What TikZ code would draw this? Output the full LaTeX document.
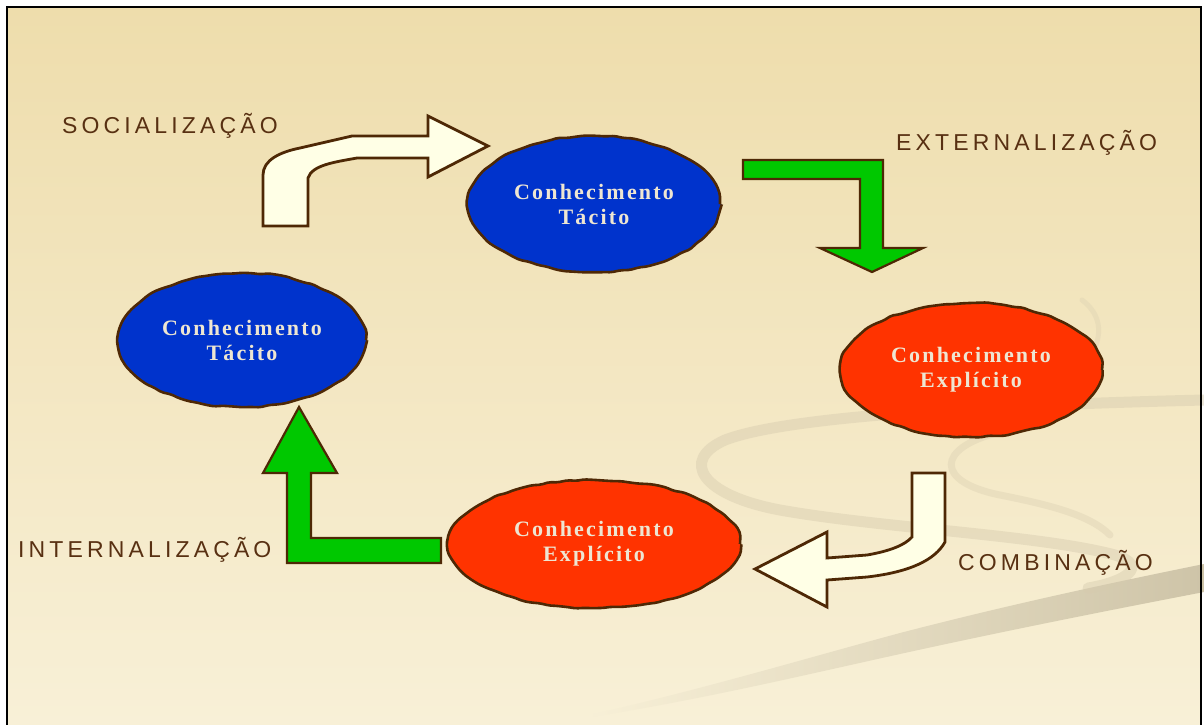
\documentclass[tikz,border=0pt]{standalone}
\usepackage{fontspec}
\setmainfont{Liberation Serif}
\newfontfamily\stagefont[LetterSpace=18]{Liberation Sans}
\newfontfamily\bubblefont[LetterSpace=10]{Liberation Serif}
\usetikzlibrary{shapes.geometric,decorations.pathmorphing}

\definecolor{outline}{RGB}{78,40,5}
\definecolor{labelbrown}{RGB}{88,48,18}
\definecolor{tacitblue}{RGB}{0,51,204}
\definecolor{explicitred}{RGB}{255,51,0}
\definecolor{shiftgreen}{RGB}{0,200,0}
\definecolor{creamfill}{RGB}{255,255,230}
\definecolor{bubbletext}{RGB}{238,230,210}
\definecolor{bgtop}{RGB}{238,221,172}
\definecolor{bgmid}{RGB}{246,235,205}
\definecolor{bgbot}{RGB}{248,240,215}
\definecolor{swoosh}{RGB}{214,203,174}
\definecolor{swooshdark}{RGB}{206,196,168}

\tikzset{
  bubble/.style={ellipse, draw=outline, line width=2.6pt, inner sep=0pt,
    text=bubbletext, align=center,
    font={\bubblefont\bfseries\fontsize{22}{25}\selectfont},
    decorate, decoration={random steps, segment length=9pt, amplitude=0.9pt},
    rounded corners=2pt},
  tacit/.style={bubble, fill=tacitblue},
  explicit/.style={bubble, fill=explicitred},
  stage/.style={anchor=base west, inner sep=0pt, text=labelbrown,
    font={\stagefont\fontsize{23}{26}\selectfont}},
  creamarrow/.style={draw=outline, fill=creamfill, line width=2.8pt, line join=miter},
  greenarrow/.style={draw=outline, fill=shiftgreen, line width=2.2pt, line join=miter},
  swooshline/.style={draw=swoosh, line cap=round}
}

\begin{document}
\begin{tikzpicture}[x=1pt,y=-1pt]
\pgfmathsetseed{11}
\useasboundingbox (0,0) rectangle (1204,724);

% page and slide background
\fill[white] (0,0) rectangle (1204,724);
\shade[top color=bgtop, middle color=bgmid, bottom color=bgbot] (7,7) rectangle (1201,724);

% decorative swooshes in the lower right
\shade[left color=bgbot, right color=swooshdark] (585,716) .. controls (700,690) and (800,660) .. (900,633)
  .. controls (1000,607) and (1100,585) .. (1204,564) -- (1204,592)
  .. controls (1100,612) and (1000,632) .. (900,654)
  .. controls (800,676) and (700,700) .. (585,718) -- cycle;
\draw[swooshline, line width=11pt, opacity=0.45] (1204,400) .. controls (1000,405) and (790,415) .. (725,440)
  .. controls (680,460) and (700,495) .. (780,510)
  .. controls (880,528) and (1040,535) .. (1115,555)
  .. controls (1150,566) and (1125,582) .. (1088,588);
\draw[swooshline, line width=7pt, opacity=0.35] (1000,432) .. controls (935,448) and (935,482) .. (1000,495)
  .. controls (1050,505) and (1090,515) .. (1110,535);
\draw[swooshline, line width=5pt, opacity=0.3] (1082,300) .. controls (1098,312) and (1102,328) .. (1096,345);

% slide frame
\draw[black, line width=2.5pt] (7,740) -- (7,7) -- (1201,7) -- (1201,740);

% the four knowledge states
\node[tacit, minimum width=252pt, minimum height=136pt] (tacitTop) at (594,204)
  {Conhecimento\\Tácito};
\node[explicit, minimum width=262pt, minimum height=134pt] (explicitRight) at (971,370)
  {Conhecimento\\Explícito};
\node[explicit, minimum width=292pt, minimum height=128pt] (explicitBottom) at (594,544)
  {Conhecimento\\Explícito};
\node[tacit, minimum width=248pt, minimum height=134pt] (tacitLeft) at (242,340)
  {Conhecimento\\Tácito};

% conversion arrows
\draw[creamarrow] (263,226) -- (263,175) .. controls (263,160) and (280,152) .. (300,148)
  -- (352,136) -- (428,136) -- (428,116) -- (488,146) -- (428,177) -- (428,158)
  -- (357,158) .. controls (335,162) and (312,165) .. (308,178) -- (308,226) -- cycle;
\draw[greenarrow] (743,160) -- (883,160) -- (883,248) -- (923,248) -- (872,272)
  -- (820,248) -- (860,248) -- (860,179) -- (743,179) -- cycle;
\draw[creamarrow] (912,473) -- (945,473) -- (945,542)
  .. controls (935,560) and (910,572) .. (867,577) -- (827,580) -- (827,607)
  -- (755,569) -- (827,532) -- (827,558) -- (867,555)
  .. controls (890,551) and (905,545) .. (912,537) -- cycle;
\draw[greenarrow] (299,407) -- (337,473) -- (311,473) -- (311,538) -- (441,538)
  -- (441,563) -- (287,563) -- (287,473) -- (263,473) -- cycle;

% stage labels
\node[stage] (socLabel) at (62,133) {SOCIALIZAÇÃO};
\node[stage] (extLabel) at (896,150) {EXTERNALIZAÇÃO};
\node[stage] (combLabel) at (958,570) {COMBINAÇÃO};
\node[stage] (intLabel) at (18,557) {INTERNALIZAÇÃO};
\end{tikzpicture}
\end{document}
